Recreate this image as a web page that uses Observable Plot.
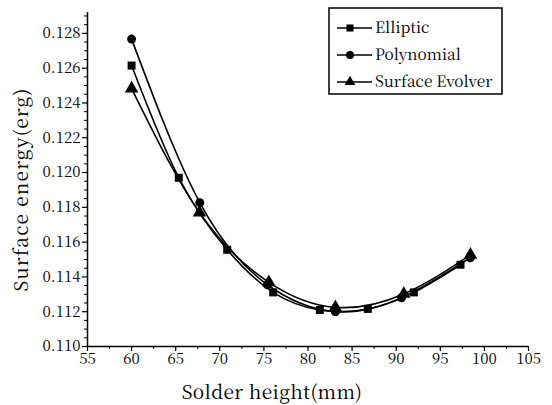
<!DOCTYPE html>
<html><head><meta charset="utf-8">
<script src="https://cdn.jsdelivr.net/npm/d3@7"></script>
<script src="https://cdn.jsdelivr.net/npm/@observablehq/plot@0.6"></script>
<style>body{margin:0;background:#fff}#chart{width:552px;height:405px}</style>
</head><body><div id="chart"></div>
<script>
const seriesNames = ["Elliptic", "Polynomial", "Surface Evolver"];
const seriesSymbols = ["square", "circle", "triangle"];
const ellipticX = [60, 65.35, 70.84, 76.05, 81.34, 86.78, 92.0, 97.29];
const ellipticY = [0.12615, 0.1197, 0.11556, 0.11311, 0.1121, 0.11216, 0.11311, 0.1147];
const polynomialX = [60, 67.73, 75.4, 83.1, 90.6, 98.4];
const polynomialY = [0.12767, 0.11827, 0.11355, 0.1120, 0.1128, 0.1151];
const evolverX = [60, 67.7, 75.56, 83.1, 90.86, 98.42];
const evolverY = [0.12483, 0.1177, 0.11369, 0.11225, 0.11302, 0.11527];
const xTicks = [55, 60, 65, 70, 75, 80, 85, 90, 95, 100, 105];
const xMinorTicks = [57.5, 62.5, 67.5, 72.5, 77.5, 82.5, 87.5, 92.5, 97.5, 102.5];
const yTicks = [0.110, 0.112, 0.114, 0.116, 0.118, 0.120, 0.122, 0.124, 0.126, 0.128];
const yMinorTicks = [0.1105, 0.111, 0.1115, 0.1125, 0.113, 0.1135, 0.1145, 0.115, 0.1155,
  0.1165, 0.117, 0.1175, 0.1185, 0.119, 0.1195, 0.1205, 0.121, 0.1215, 0.1225, 0.123, 0.1235,
  0.1245, 0.125, 0.1255, 0.1265, 0.127, 0.1275, 0.1285, 0.129];
const xDomain = [55, 105];
const yDomain = [0.110, 0.1292];
const xTitle = "Solder height(mm)";
const yTitle = "Surface energy(erg)";

const table = (xs, ys, name) => xs.map((x, i) => ({x, y: ys[i], series: name}));
const data = [
  table(ellipticX, ellipticY, seriesNames[0]),
  table(polynomialX, polynomialY, seriesNames[1]),
  table(evolverX, evolverY, seriesNames[2])
];

const font = "'Noto Serif CJK KR', 'DejaVu Serif', serif";
const marks = [
  Plot.ruleY([yDomain[0]], {stroke: "black", strokeWidth: 1.5}),
  Plot.ruleX([xDomain[0]], {stroke: "black", strokeWidth: 1.5}),
  Plot.axisX({ticks: xTicks, tickSize: 5, tickPadding: 2, tickFormat: d => String(d), label: null, strokeWidth: 1.2, fontSize: 15}),
  Plot.axisX({ticks: xMinorTicks, tickSize: 3, tickFormat: () => "", label: null}),
  Plot.axisY({ticks: yTicks, tickSize: 5, tickPadding: 2, tickFormat: d3.format(".3f"), label: null, strokeWidth: 1.2, fontSize: 15}),
  Plot.axisY({ticks: yMinorTicks, tickSize: 3, tickFormat: () => "", label: null}),
  Plot.text([xTitle], {frameAnchor: "bottom", lineAnchor: "middle", textAnchor: "middle", dx: -36, dy: 46, fontSize: 19, fill: "black", className: "xtitle"}),
  Plot.text([yTitle], {frameAnchor: "left", lineAnchor: "middle", textAnchor: "middle", dx: -66, dy: 10, rotate: -90, fontSize: 19, fill: "black", className: "ytitle"})
];
data.forEach((d, i) => {
  marks.push(Plot.line(d, {x: "x", y: "y", curve: "natural", stroke: "black", strokeWidth: 1.6}));
  marks.push(Plot.dot(d, {x: "x", y: "y", symbol: () => seriesSymbols[i], fill: "black", stroke: "none", r: i === 2 ? 5 : 4.5}));
});

const chart = Plot.plot({
  width: 552, height: 405,
  marginLeft: 87, marginRight: 24, marginTop: 12, marginBottom: 59,
  style: {fontSize: "15px", color: "black", background: "white", overflow: "visible"},
  x: {domain: xDomain},
  y: {domain: yDomain},
  symbol: {domain: seriesSymbols, range: seriesSymbols},
  marks
});
document.getElementById("chart").appendChild(chart);
const svg = d3.select(chart);
svg.selectAll("text").style("font-family", font);
svg.selectAll(".xtitle text").attr("letter-spacing", "0.4px");
svg.selectAll(".ytitle text").attr("letter-spacing", "1.2px");

// Legend box drawn inside the plot area
const lg = svg.append("g").attr("transform", "translate(329,8)");
lg.append("rect").attr("width", 173).attr("height", 86).attr("fill", "white").attr("stroke", "black").attr("stroke-width", 1.5);
const symTypes = {square: d3.symbolSquare, circle: d3.symbolCircle, triangle: d3.symbolTriangle};
seriesNames.forEach((name, i) => {
  const y = 20 + i * 27;
  lg.append("line").attr("x1", 8).attr("x2", 43).attr("y1", y).attr("y2", y).attr("stroke", "black").attr("stroke-width", 1.5);
  lg.append("path").attr("d", d3.symbol(symTypes[seriesSymbols[i]], 50)()).attr("transform", `translate(21,${y})`).attr("fill", "black");
  lg.append("text").attr("x", 46).attr("y", y).attr("dy", "0.35em").attr("text-anchor", "start")
    .style("font-family", font).style("font-size", "15.5px").attr("fill", "black").text(name);
});
</script></body></html>
